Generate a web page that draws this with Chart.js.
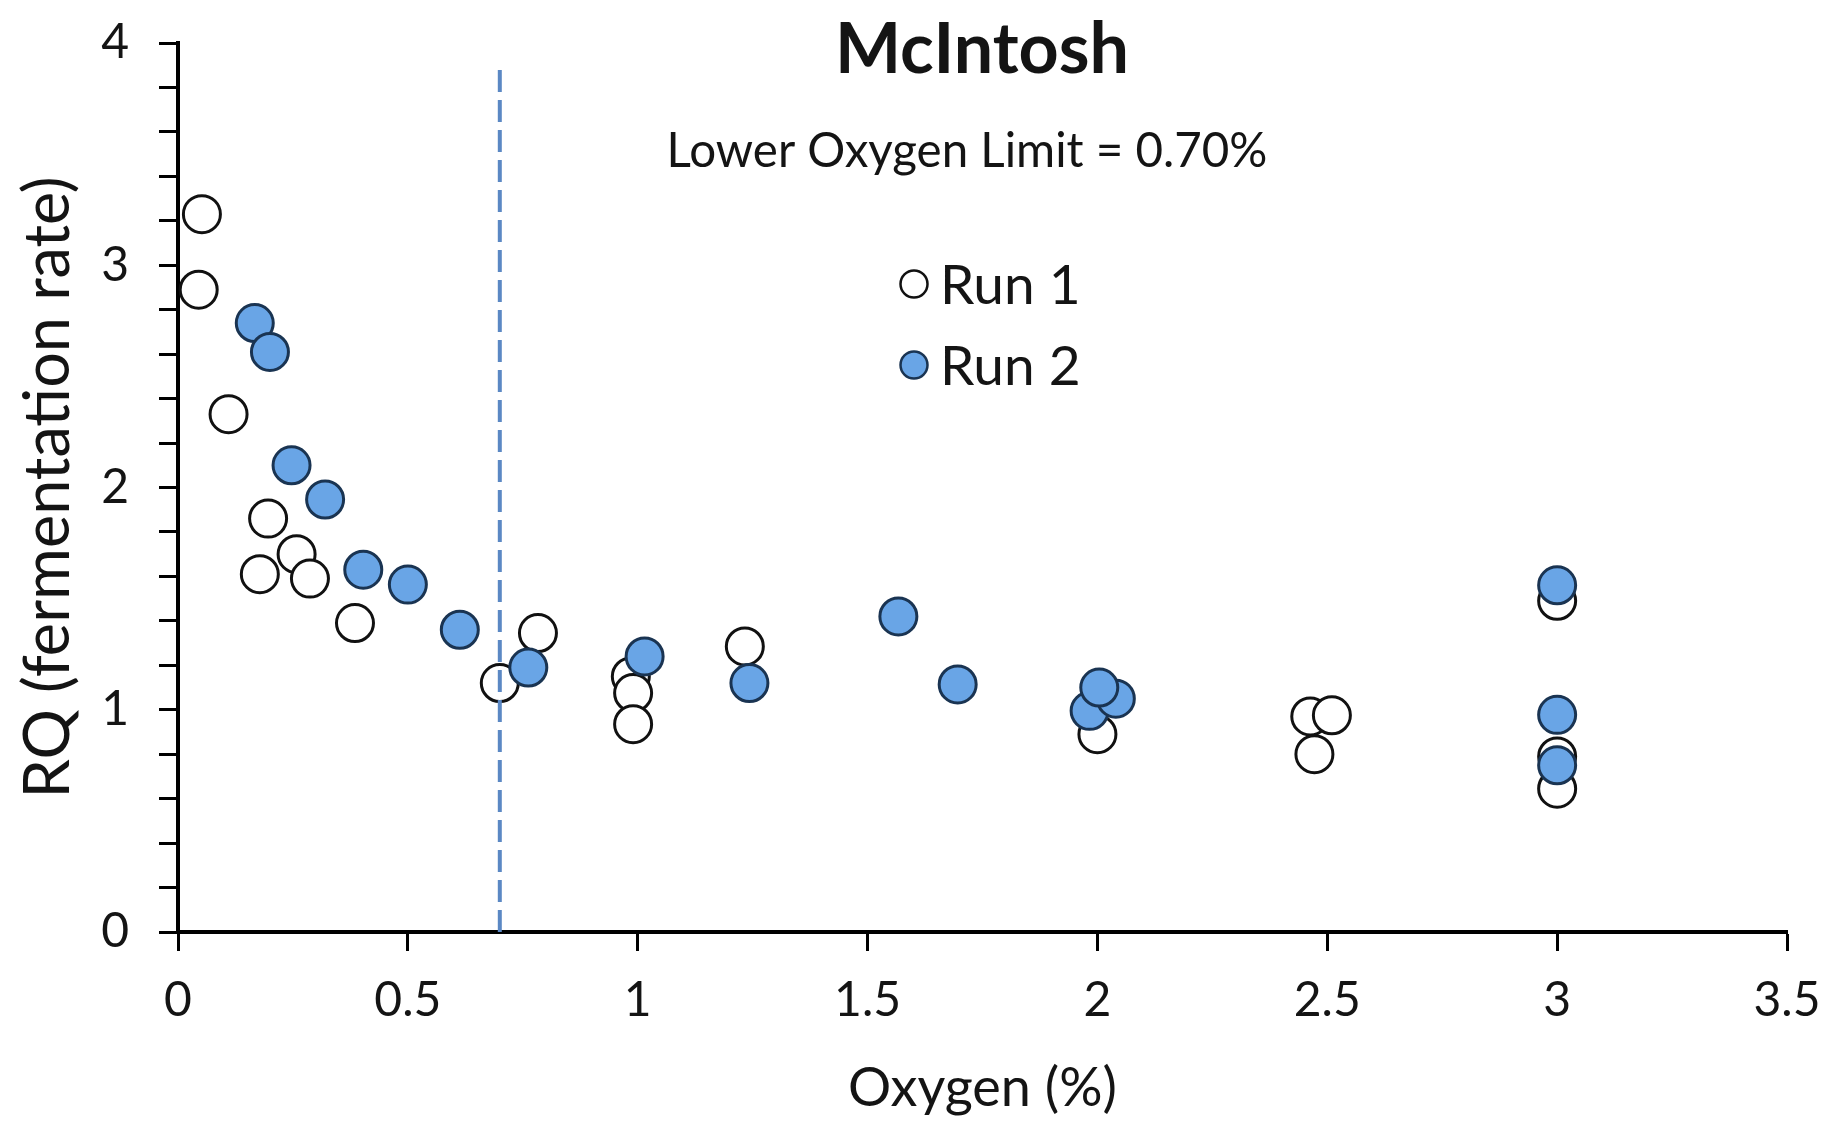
<!DOCTYPE html>
<html>
<head>
<meta charset="utf-8">
<script src="https://cdn.jsdelivr.net/npm/chart.js@4.4.1/dist/chart.umd.min.js"></script>
<style>
  html, body { margin: 0; padding: 0; background: #fff; }
  #wrap { width: 1826px; height: 1124px; }
</style>
</head>
<body>
<div id="wrap"><canvas id="c" width="1826" height="1124"></canvas></div>
<script>
// Chart text
const chartTitle = 'McIntosh';
const limitText = 'Lower Oxygen Limit = 0.70%';
const xAxisTitle = 'Oxygen (%)';
const yAxisTitle = 'RQ (fermentation rate)';
const seriesNames = ['Run 1', 'Run 2'];

// Lower oxygen limit (%), drawn as a dashed vertical line
const limitValue = 0.70;
const limitLineRQ = [0, 3.9];

// Run 1: oxygen (%) and RQ
const run1Oxygen = [0.052, 0.045, 0.11, 0.196, 0.178, 0.258, 0.287, 0.385, 0.70, 0.783,
                    0.985, 0.99, 0.99, 1.233, 2.0, 2.463, 2.51, 2.472, 3.0, 3.0, 3.0];
const run1RQ     = [3.23, 2.89, 2.33, 1.86, 1.61, 1.70, 1.59, 1.39, 1.12, 1.345,
                    1.15, 1.075, 0.935, 1.285, 0.89, 0.97, 0.975, 0.80, 1.49, 0.79, 0.645];

// Run 2: oxygen (%) and RQ
const run2Oxygen = [0.167, 0.20, 0.247, 0.32, 0.403, 0.50, 0.613, 0.762, 1.015, 1.243,
                    1.567, 1.696, 1.983, 2.04, 2.004, 3.0, 3.0, 3.0];
const run2RQ     = [2.74, 2.61, 2.10, 1.946, 1.63, 1.563, 1.36, 1.19, 1.24, 1.12,
                    1.42, 1.114, 0.995, 1.05, 1.10, 1.56, 0.977, 0.75];

// Axis tick labels
const xTickLabels = ['0', '0.5', '1', '1.5', '2', '2.5', '3', '3.5'];
const yTickLabels = ['0', '1', '2', '3', '4'];

const FONT = 'Lato';
const INK = '#141414';

const toPoints = (xs, ys) => xs.map((x, i) => ({ x: x, y: ys[i] }));

const whiteBg = {
  id: 'whiteBg',
  beforeDraw(chart) {
    const c = chart.ctx;
    c.save();
    c.fillStyle = '#ffffff';
    c.fillRect(0, 0, chart.width, chart.height);
    c.restore();
  }
};

// Title, limit note and legend inside the plot
const annotations = {
  id: 'annotations',
  afterDraw(chart) {
    const c = chart.ctx;
    c.save();
    c.fillStyle = INK;
    c.textAlign = 'center';
    c.textBaseline = 'middle';
    c.font = 'bold 70px ' + FONT;
    c.fillText(chartTitle, 982, 50);
    c.font = '47.5px ' + FONT;
    c.fillText(limitText, 967, 152);

    const sets = chart.data.datasets.slice(0, 2);
    sets.forEach((ds, i) => {
      const y = 284 + i * 81;
      c.beginPath();
      c.arc(914, y, 13.5, 0, Math.PI * 2);
      c.fillStyle = ds.backgroundColor;
      c.fill();
      c.lineWidth = 2.5;
      c.strokeStyle = ds.borderColor;
      c.stroke();
      c.fillStyle = INK;
      c.textAlign = 'left';
      c.font = '55px ' + FONT;
      c.fillText(ds.label, 940, y + 2);
    });
    c.restore();
  }
};

new Chart(document.getElementById('c'), {
  type: 'scatter',
  data: {
    datasets: [
      {
        label: seriesNames[0],
        data: toPoints(run1Oxygen, run1RQ),
        backgroundColor: '#ffffff',
        borderColor: '#111111',
        borderWidth: 3,
        pointRadius: 18.5,
        order: 3
      },
      {
        label: seriesNames[1],
        data: toPoints(run2Oxygen, run2RQ),
        backgroundColor: '#69a5e6',
        borderColor: '#1a3452',
        borderWidth: 3,
        pointRadius: 18.5,
        order: 2
      },
      {
        type: 'line',
        label: 'limit',
        data: limitLineRQ.map(y => ({ x: limitValue, y: y })),
        borderColor: '#5b88c4',
        borderWidth: 4,
        borderDash: [22, 8],
        pointRadius: 0,
        fill: false,
        order: 1
      }
    ]
  },
  options: {
    responsive: false,
    animation: false,
    devicePixelRatio: 1,
    layout: { padding: { left: 0, right: 39, top: 43, bottom: 0 } },
    plugins: { legend: { display: false }, tooltip: { enabled: false } },
    scales: {
      x: {
        type: 'linear',
        min: 0,
        max: 3.5,
        afterBuildTicks: s => { s.ticks = xTickLabels.map(t => ({ value: parseFloat(t) })); },
        afterFit: s => { s.height = 192; s.paddingLeft = 0; s.paddingRight = 0; },
        border: { display: true, color: '#000', width: 4 },
        grid: { display: true, drawOnChartArea: false, drawTicks: true, tickLength: 19, tickWidth: 3, tickColor: '#000' },
        ticks: {
          autoSkip: false,
          maxRotation: 0,
          padding: 21,
          color: INK,
          font: { family: FONT, size: 48 },
          callback: (v, i) => xTickLabels[i]
        },
        title: {
          display: true,
          text: xAxisTitle,
          color: INK,
          font: { family: FONT, size: 54 },
          padding: { top: 0, bottom: 3 }
        }
      },
      y: {
        type: 'linear',
        min: 0,
        max: 4,
        afterBuildTicks: s => {
          const t = [];
          for (let k = 0; k <= 20; k++) t.push({ value: k / 5 });
          s.ticks = t;
        },
        afterFit: s => { s.width = 178; s.paddingTop = 0; s.paddingBottom = 0; },
        border: { display: true, color: '#000', width: 4 },
        grid: { display: true, drawOnChartArea: false, drawTicks: true, tickLength: 19, tickWidth: 3, tickColor: '#000' },
        ticks: {
          autoSkip: false,
          padding: 30,
          color: INK,
          font: { family: FONT, size: 48 },
          callback: v => {
            const k = Math.round(v * 5);
            return k % 5 === 0 ? yTickLabels[k / 5] : '';
          }
        },
        title: {
          display: true,
          text: yAxisTitle,
          color: INK,
          font: { family: FONT, size: 63 },
          padding: { top: 11, bottom: 0 }
        }
      }
    }
  },
  plugins: [whiteBg, annotations]
});
</script>
</body>
</html>
